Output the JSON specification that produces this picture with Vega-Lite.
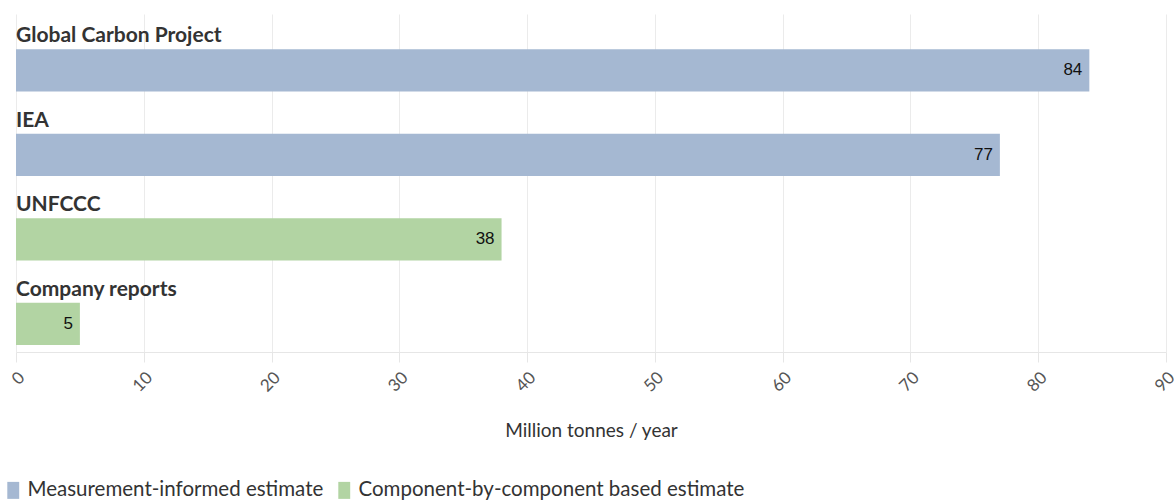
{
  "$schema": "https://vega.github.io/schema/vega-lite/v6.json",
  "width": 1150,
  "height": 338,
  "autosize": {"type": "none"},
  "padding": {"left": 16, "top": 14, "right": 8, "bottom": 150},
  "background": "white",
  "config": {"view": {"stroke": null}, "font": "Lato"},
  "data": {
    "values": [
      {"source": "Global Carbon Project", "value": 84, "type": "Measurement-informed estimate"},
      {"source": "IEA", "value": 77, "type": "Measurement-informed estimate"},
      {"source": "UNFCCC", "value": 38, "type": "Component-by-component based estimate"},
      {"source": "Company reports", "value": 5, "type": "Component-by-component based estimate"}
    ]
  },
  "encoding": {
    "y": {
      "field": "source",
      "type": "nominal",
      "sort": null,
      "scale": {"paddingInner": 0, "paddingOuter": 0},
      "axis": null
    }
  },
  "layer": [
    {
      "mark": {"type": "bar", "height": {"band": 0.5}, "yOffset": 14},
      "encoding": {
        "x": {
          "field": "value",
          "type": "quantitative",
          "scale": {"domain": [0, 90], "nice": false},
          "axis": {
            "title": "Million tonnes / year",
            "titleFont": "Lato",
            "titleFontSize": 19,
            "titleFontWeight": "normal",
            "titleColor": "#333333",
            "titlePadding": 27,
            "values": [0, 10, 20, 30, 40, 50, 60, 70, 80, 90],
            "labelAngle": -45,
            "labelFontSize": 17,
            "labelColor": "#555555",
            "labelPadding": 7,
            "gridColor": "#ebebeb",
            "domainColor": "#e6e6e6",
            "tickColor": "#e6e6e6",
            "tickSize": 10,
            "labelFlush": false,
            "labelOverlap": false
          }
        },
        "color": {
          "field": "type",
          "type": "nominal",
          "scale": {
            "domain": ["Measurement-informed estimate", "Component-by-component based estimate"],
            "range": ["#a5b8d2", "#b2d4a3"]
          },
          "legend": {
            "title": null,
            "orient": "none",
            "direction": "horizontal",
            "legendX": -13,
            "legendY": 466,
            "symbolType": "M-0.7,-1H0.7V1H-0.7Z",
            "symbolSize": 289,
            "symbolStrokeWidth": 0,
            "labelFontSize": 20.5,
            "labelColor": "#333333",
            "labelOffset": 4,
            "columnPadding": 10,
            "labelLimit": 450
          }
        }
      }
    },
    {
      "mark": {"type": "text", "align": "right", "baseline": "middle", "dx": -7, "yOffset": 14, "fontSize": 17, "font": "Liberation Sans", "color": "#111111"},
      "encoding": {
        "x": {"field": "value", "type": "quantitative"},
        "text": {"field": "value", "type": "quantitative"}
      }
    },
    {
      "mark": {"type": "text", "align": "left", "baseline": "middle", "yOffset": -20, "fontSize": 21, "fontWeight": "bold", "color": "#333333"},
      "encoding": {
        "x": {"datum": 0},
        "text": {"field": "source", "type": "nominal"}
      }
    }
  ]
}
